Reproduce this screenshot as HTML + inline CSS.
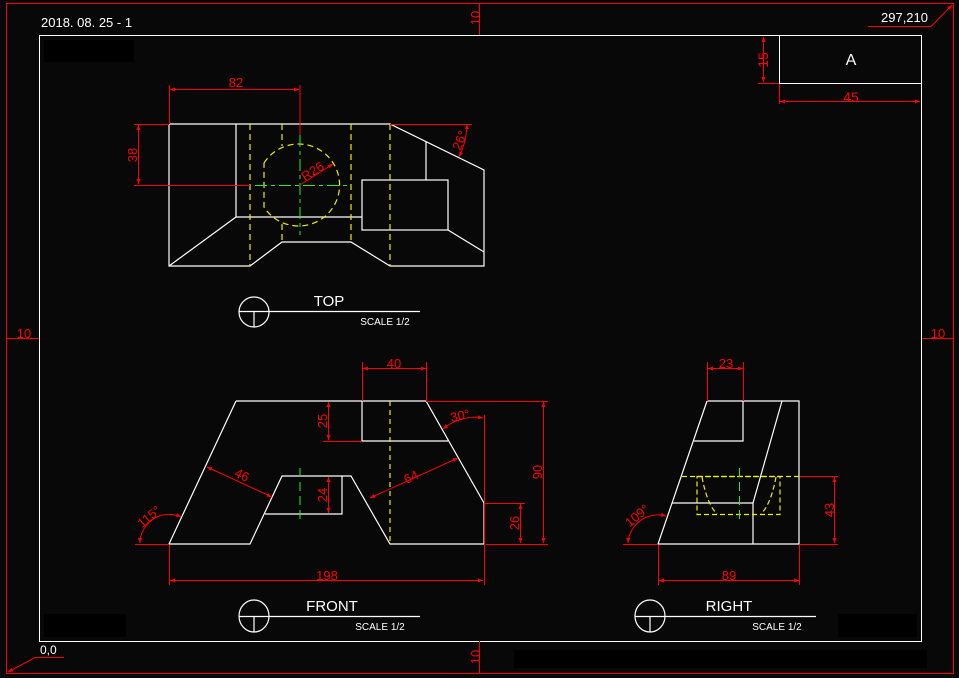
<!DOCTYPE html>
<html><head><meta charset="utf-8"><style>
html,body{margin:0;padding:0;background:#080808;}
svg{display:block}
text{font-family:"Liberation Sans",sans-serif;}
</style></head><body>
<svg width="959" height="678" viewBox="0 0 959 678" xmlns="http://www.w3.org/2000/svg">
<defs>
<marker id="a" viewBox="0 0 10 10" refX="10" refY="5" markerWidth="8" markerHeight="5" orient="auto-start-reverse" markerUnits="userSpaceOnUse"><path d="M0,1 L10,5 L0,9 z" fill="#f00"/></marker>
</defs>
<rect width="959" height="678" fill="#080808"/>
<rect x="44" y="40" width="90" height="22" fill="#000"/>
<rect x="44" y="614" width="82" height="23" fill="#000"/>
<rect x="838" y="614" width="79" height="23" fill="#000"/>
<rect x="514" y="650" width="413" height="18" fill="#000"/>
<rect x="6.5" y="3.5" width="947" height="670" fill="none" stroke="#f00" stroke-width="1"/>
<rect x="39.5" y="35.5" width="882" height="606" fill="none" stroke="#fff" stroke-width="1"/>
<g stroke="#f00" stroke-width="1" fill="none">
<line x1="479.5" y1="3" x2="479.5" y2="35"/>
<line x1="479.5" y1="641" x2="479.5" y2="673"/>
<line x1="6" y1="338.5" x2="39" y2="338.5"/>
<line x1="921" y1="338.5" x2="953" y2="338.5"/>
<polyline points="868,26.5 931,26.5 952,5" marker-end="url(#a)"/>
<polyline points="64,657.5 35,657.5 8,672" marker-end="url(#a)"/>
</g>
<g fill="#f00" font-size="13">
<text x="0" y="0" transform="translate(480,18) rotate(-90)" text-anchor="middle">10</text>
<text x="0" y="0" transform="translate(480,657) rotate(-90)" text-anchor="middle">10</text>
<text x="24" y="338" text-anchor="middle">10</text>
<text x="938" y="338" text-anchor="middle">10</text>
</g>
<text x="41" y="27" fill="#fff" font-size="13">2018. 08. 25 - 1</text>
<text x="881" y="22" fill="#fff" font-size="13">297,210</text>
<text x="40" y="654" fill="#fff" font-size="12">0,0</text>
<rect x="779.5" y="35.5" width="142" height="48" fill="none" stroke="#fff"/>
<line x1="921.5" y1="35" x2="921.5" y2="641" stroke="#fff"/>
<text x="851" y="65" fill="#fff" font-size="16" text-anchor="middle">A</text>
<g stroke="#f00" fill="none">
<line x1="763.5" y1="37" x2="763.5" y2="82" marker-start="url(#a)" marker-end="url(#a)"/>
<line x1="758" y1="83.5" x2="779" y2="83.5"/>
<line x1="779.5" y1="84" x2="779.5" y2="104"/>
<line x1="780" y1="101.5" x2="920" y2="101.5" marker-start="url(#a)" marker-end="url(#a)"/>
</g>
<text x="0" y="0" transform="translate(768,60) rotate(-90)" fill="#f00" font-size="14" text-anchor="middle">15</text>
<text x="851" y="102" fill="#f00" font-size="14" text-anchor="middle">45</text>

<g stroke="#fff" stroke-width="1.2" fill="none">
<polyline points="169,124 390,124 484,170 484,266 390,266 351,242 282,242 250,266 169,266 169,124"/>
<polyline points="236,124 236,217 362,217"/>
<line x1="169" y1="266" x2="236" y2="217"/>
<rect x="362" y="180" width="86" height="50"/>
<line x1="426" y1="142" x2="426" y2="180"/>
<line x1="448" y1="230" x2="484" y2="252"/>
</g>
<g stroke="#ee0" stroke-width="1.2" fill="none" stroke-dasharray="6,4">
<line x1="250" y1="124" x2="250" y2="266"/>
<line x1="282" y1="124" x2="282" y2="146"/><line x1="282" y1="224" x2="282" y2="242"/>
<line x1="351" y1="124" x2="351" y2="242"/>
<line x1="390" y1="124" x2="390" y2="266"/>
<path d="M264,163 A41,41 0 1 1 264,207 L264,163"/>
</g>
<g stroke="#2e2" stroke-width="1" stroke-dasharray="12,4,4,4">
<line x1="255" y1="185.5" x2="350" y2="185.5"/>
<line x1="300" y1="135" x2="300" y2="235"/>
</g>
<g stroke="#f00" fill="none">
<line x1="169.5" y1="85" x2="169.5" y2="124"/><line x1="300" y1="85" x2="300" y2="135"/>
<line x1="170" y1="89.5" x2="299" y2="89.5" marker-start="url(#a)" marker-end="url(#a)"/>
<line x1="134" y1="124.5" x2="169" y2="124.5"/><line x1="134" y1="185.5" x2="250" y2="185.5"/>
<line x1="138.5" y1="125" x2="138.5" y2="184" marker-start="url(#a)" marker-end="url(#a)"/>
<line x1="300" y1="185" x2="333" y2="164" marker-end="url(#a)"/>
<line x1="390" y1="124.5" x2="472" y2="124.5"/>
<path d="M467,124 A77,77 0 0 1 459,157" marker-start="url(#a)" marker-end="url(#a)"/>
</g>
<g fill="#f00" font-size="13">
<text x="236" y="87" text-anchor="middle">82</text>
<text x="0" y="0" transform="translate(137,155) rotate(-90)" text-anchor="middle">38</text>
<text x="0" y="0" transform="translate(315,175) rotate(-33)" text-anchor="middle">R26</text>
<text x="0" y="0" transform="translate(464,142) rotate(-68)" text-anchor="middle">26°</text>
</g>
<g stroke="#fff" fill="none" stroke-width="1.2">
<circle cx="254" cy="312" r="15"/><line x1="239" y1="311.5" x2="420" y2="311.5"/><line x1="254" y1="312" x2="254" y2="327"/>
<ellipse cx="254" cy="616" rx="15" ry="16"/><line x1="239" y1="616.5" x2="420" y2="616.5"/><line x1="254" y1="617" x2="254" y2="632"/>
<ellipse cx="650" cy="616" rx="15" ry="16"/><line x1="635" y1="616.5" x2="816" y2="616.5"/><line x1="650" y1="617" x2="650" y2="632"/>
</g>
<g fill="#fff">
<text x="329" y="306" font-size="15" text-anchor="middle">TOP</text>
<text x="385" y="325" font-size="10" text-anchor="middle">SCALE 1/2</text>
<text x="332" y="611" font-size="15" text-anchor="middle">FRONT</text>
<text x="380" y="630" font-size="10" text-anchor="middle">SCALE 1/2</text>
<text x="729" y="611" font-size="15" text-anchor="middle">RIGHT</text>
<text x="777" y="630" font-size="10" text-anchor="middle">SCALE 1/2</text>
</g>

<g stroke="#fff" stroke-width="1.2" fill="none">
<polyline points="236,401 426,401 484,503 484,544 390,544 351,476 282,476 250,544 169,544 236,401"/>
<polyline points="362,401 362,441 448,441"/>
<polyline points="342,476 342,514 265,514"/>
</g>
<line x1="390" y1="401" x2="390" y2="544" stroke="#ee0" stroke-width="1.2" stroke-dasharray="5,4"/>
<line x1="300" y1="468" x2="300" y2="522" stroke="#2e2" stroke-dasharray="9,5"/>
<g stroke="#f00" fill="none">
<line x1="362.5" y1="362" x2="362.5" y2="401"/><line x1="426.5" y1="362" x2="426.5" y2="401"/>
<line x1="363" y1="368.5" x2="426" y2="368.5" marker-start="url(#a)" marker-end="url(#a)"/>
<line x1="328.5" y1="402" x2="328.5" y2="440" marker-start="url(#a)" marker-end="url(#a)"/>
<line x1="323" y1="441.5" x2="362" y2="441.5"/>
<line x1="328.5" y1="477" x2="328.5" y2="513" marker-start="url(#a)" marker-end="url(#a)"/>
<line x1="207" y1="467" x2="272" y2="497" marker-start="url(#a)" marker-end="url(#a)"/>
<line x1="370" y1="498" x2="458" y2="458" marker-start="url(#a)" marker-end="url(#a)"/>
<line x1="484.5" y1="415" x2="484.5" y2="585"/>
<path d="M443,429 A49,49 0 0 1 483,418" marker-start="url(#a)" marker-end="url(#a)"/>
<line x1="426" y1="401.5" x2="548" y2="401.5"/><line x1="486" y1="544.5" x2="548" y2="544.5"/>
<line x1="543.5" y1="402" x2="543.5" y2="543" marker-start="url(#a)" marker-end="url(#a)"/>
<line x1="484" y1="503.5" x2="525" y2="503.5"/>
<line x1="520.5" y1="504" x2="520.5" y2="543" marker-start="url(#a)" marker-end="url(#a)"/>
<line x1="169.5" y1="545" x2="169.5" y2="585"/>
<line x1="170" y1="580.5" x2="483" y2="580.5" marker-start="url(#a)" marker-end="url(#a)"/>
<line x1="135" y1="544.5" x2="169" y2="544.5"/>
<path d="M140,543 A29,29 0 0 1 181,517" marker-start="url(#a)" marker-end="url(#a)"/>
</g>
<g fill="#f00" font-size="13">
<text x="394" y="368" text-anchor="middle">40</text>
<text x="0" y="0" transform="translate(327,421) rotate(-90)" text-anchor="middle">25</text>
<text x="0" y="0" transform="translate(327,495) rotate(-90)" text-anchor="middle">24</text>
<text x="0" y="0" transform="translate(240,479) rotate(25)" text-anchor="middle">46</text>
<text x="0" y="0" transform="translate(413,481) rotate(-26)" text-anchor="middle">64</text>
<text x="0" y="0" transform="translate(461,420) rotate(-12)" text-anchor="middle">30°</text>
<text x="0" y="0" transform="translate(542,472) rotate(-90)" text-anchor="middle">90</text>
<text x="0" y="0" transform="translate(519,523) rotate(-90)" text-anchor="middle">26</text>
<text x="327" y="580" text-anchor="middle">198</text>
<text x="0" y="0" transform="translate(152,520) rotate(-40)" text-anchor="middle">115°</text>
</g>

<g stroke="#fff" stroke-width="1.2" fill="none">
<polyline points="707,401 799,401 799,544 658,544 707,401"/>
<polyline points="743,401 743,441 694,441"/>
<polyline points="782,401 753,503 672,503"/>
<line x1="753" y1="503" x2="753" y2="544"/>
</g>
<g stroke="#ee0" stroke-width="1.2" fill="none" stroke-dasharray="5,3">
<line x1="682" y1="476.5" x2="799" y2="476.5"/>
<rect x="697" y="476.5" width="83" height="38"/>
<path d="M702,477 Q707,504 717,514"/>
<path d="M776,477 Q771,504 761,514"/>
</g>
<line x1="739.5" y1="468" x2="739.5" y2="523" stroke="#2e2" stroke-dasharray="9,5"/>
<g stroke="#f00" fill="none">
<line x1="707.5" y1="362" x2="707.5" y2="401"/><line x1="743.5" y1="362" x2="743.5" y2="401"/>
<line x1="708" y1="368.5" x2="743" y2="368.5" marker-start="url(#a)" marker-end="url(#a)"/>
<line x1="800" y1="476.5" x2="838" y2="476.5"/><line x1="800" y1="544.5" x2="838" y2="544.5"/>
<line x1="834.5" y1="477" x2="834.5" y2="543" marker-start="url(#a)" marker-end="url(#a)"/>
<line x1="658.5" y1="545" x2="658.5" y2="585"/><line x1="799.5" y1="545" x2="799.5" y2="585"/>
<line x1="659" y1="580.5" x2="799" y2="580.5" marker-start="url(#a)" marker-end="url(#a)"/>
<line x1="623" y1="544.5" x2="658" y2="544.5"/>
<path d="M628,543 A30,30 0 0 1 666,516" marker-start="url(#a)" marker-end="url(#a)"/>
</g>
<g fill="#f00" font-size="13">
<text x="726" y="368" text-anchor="middle">23</text>
<text x="0" y="0" transform="translate(834,510) rotate(-90)" text-anchor="middle">43</text>
<text x="729" y="580" text-anchor="middle">89</text>
<text x="0" y="0" transform="translate(640,519) rotate(-40)" text-anchor="middle">109°</text>
</g>
</svg>
</body></html>
